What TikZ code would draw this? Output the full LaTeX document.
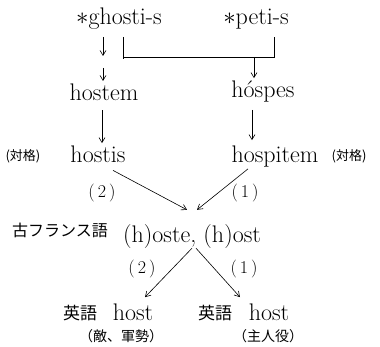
\documentclass[tikz,border=0pt]{standalone}
\usepackage{fontspec}
\newfontfamily\jp{Noto Sans CJK JP}
\usetikzlibrary{arrows.meta}

\tikzset{
  word/.style={anchor=base, inner sep=1pt, font=\fontsize{24}{28}\selectfont},
  note/.style={anchor=base, inner sep=1pt, font=\jp\fontsize{13}{15}\selectfont},
  num/.style={anchor=base, inner sep=1pt, font=\fontsize{18}{20}\selectfont},
  arr/.style={-{Straight Barb[length=5pt,width=6pt]}, semithick},
}

\begin{document}
\begin{tikzpicture}[x=1pt, y=-1pt]
    \useasboundingbox (0,0) rectangle (380,347);

    % Proto-forms
    \node[word] (ghostis) at (119,25) {$\ast$ghosti-s};
    \node[word] (petis) at (256,25) {$\ast$peti-s};

    % Latin
    \node[word] (hostem) at (104,101) {hostem};
    \node[word] (hospes) at (263,98) {h\'ospes};
    \node[word] (hostis) at (98,163) {hostis};
    \node[note] (acc1) at (23,161) {(対格)};
    \node[word] (hospitem) at (275,163) {hospitem};
    \node[note] (acc2) at (349,161) {(対格)};

    % Old French
    \node[note, font=\jp\fontsize{16}{18}\selectfont] (oldfr) at (60,237) {古フランス語};
    \node[word] (hoste) at (192,243) {(h)oste, (h)ost};

    % English
    \node[note, font=\jp\fontsize{17}{19}\selectfont] (eng1) at (80,319) {英語};
    \node[word] (host1) at (133,320) {host};
    \node[note, font=\jp\fontsize{14}{16}\selectfont] (enemy) at (121,341) {（敵、軍勢）};
    \node[note, font=\jp\fontsize{17}{19}\selectfont] (eng2) at (215,319) {英語};
    \node[word] (host2) at (269,320) {host};
    \node[note, font=\jp\fontsize{14}{16}\selectfont] (master) at (268,341) {（主人役）};

    % Split under *ghosti-s
    \coordinate (g1) at (103,37);
    \coordinate (g2) at (103,56);
    \coordinate (g3) at (103,68);
    \coordinate (g4) at (103,81);
    \draw[arr] (g1) -- (g2);
    \draw[arr] (g3) -- (g4);

    % Bracket joining ghosti-s and peti-s
    \coordinate (b1) at (123,37);
    \coordinate (b2) at (123,59);
    \coordinate (b3) at (123,57);
    \coordinate (b4) at (274,57);
    \coordinate (b5) at (274,37);
    \coordinate (bj) at (254,57);
    \draw[semithick] (b1) -- (b2);
    \draw[semithick] (b3) -- (b4) -- (b5);
    \draw[arr] (bj) -- ([xshift=-9pt,yshift=2pt]hospes.north);

    % Latin to accusative
    \draw[arr] ([xshift=-2pt,yshift=-8pt]hostem.south) -- ([xshift=4pt,yshift=2pt]hostis.north);
    \draw[arr] ([xshift=-11pt,yshift=-6pt]hospes.south) -- ([xshift=-23pt,yshift=5pt]hospitem.north);

    % Accusative to Old French
    \draw[arr] ([xshift=15pt,yshift=-6pt]hostis.south) -- ([xshift=-5pt,yshift=14pt]hoste.north);
    \draw[arr] ([xshift=-27pt]hospitem.south) -- ([xshift=5pt,yshift=14pt]hoste.north);
    \node[num] (n2a) at (102,198) {(\,2\,)};
    \node[num] (n1a) at (245,198) {(\,1\,)};

    % Old French to English
    \draw[arr] ([yshift=2pt]hoste.south) -- ([xshift=12pt,yshift=5pt]host1.north);
    \draw[arr] ([xshift=4pt,yshift=2pt]hoste.south) -- ([xshift=-29pt,yshift=5pt]host2.north);
    \node[num] (n2b) at (142,274) {(\,2\,)};
    \node[num] (n1b) at (244,273) {(\,1\,)};
\end{tikzpicture}
\end{document}
